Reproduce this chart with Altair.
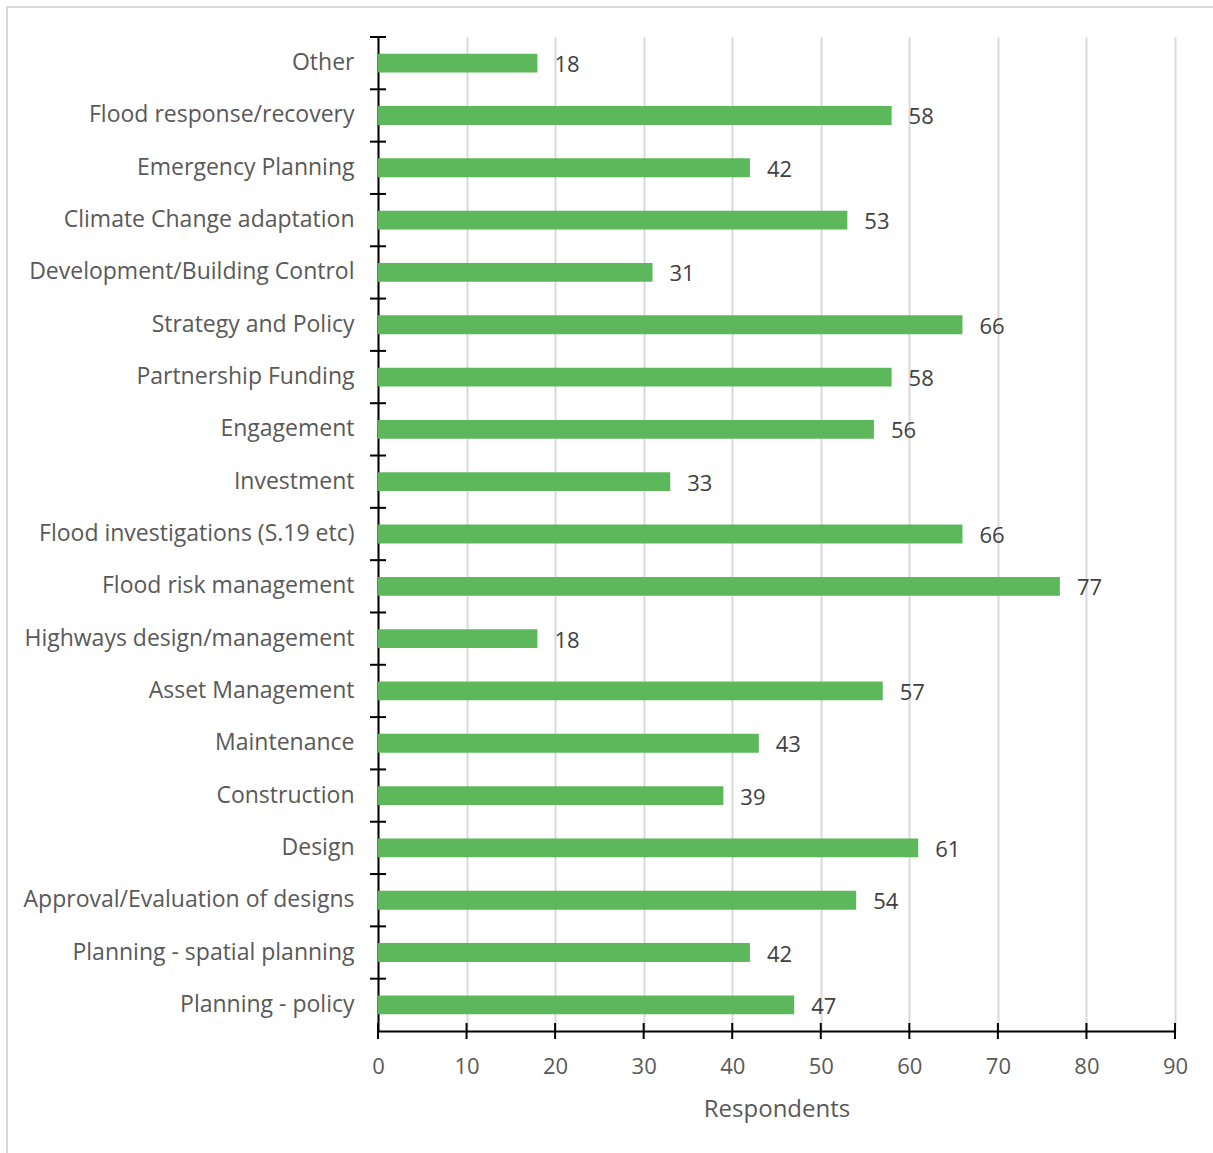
import altair as alt
import pandas as pd

categories = [
    "Other",
    "Flood response/recovery",
    "Emergency Planning",
    "Climate Change adaptation",
    "Development/Building Control",
    "Strategy and Policy",
    "Partnership Funding",
    "Engagement",
    "Investment",
    "Flood investigations (S.19 etc)",
    "Flood risk management",
    "Highways design/management",
    "Asset Management",
    "Maintenance",
    "Construction",
    "Design",
    "Approval/Evaluation of designs",
    "Planning - spatial planning",
    "Planning - policy",
]
respondents = [18, 58, 42, 53, 31, 66, 58, 56, 33, 66, 77, 18, 57, 43, 39, 61, 54, 42, 47]
x_ticks = [0, 10, 20, 30, 40, 50, 60, 70, 80, 90]

df = pd.DataFrame({"cat": categories, "n": respondents})
ticks_df = pd.DataFrame({"t": x_ticks})
frame_df = pd.DataFrame({"a": [0]})

W, H = 797, 994
FONT = "Open Sans"

yscale = alt.Scale(domain=categories, paddingInner=0, paddingOuter=0)
xscale = alt.Scale(domain=[0, 90], nice=False)

y_enc = alt.Y(
    "cat:N",
    sort=categories,
    scale=yscale,
    axis=alt.Axis(
        title=None,
        ticks=False,
        domainColor="black",
        domainWidth=2,
        labelFontSize=23,
        labelColor="#595959",
        labelPadding=24,
        labelLimit=400,
        grid=False,
    ),
)
x_enc = alt.X(
    "n:Q",
    scale=xscale,
    axis=alt.Axis(
        title="Respondents",
        values=x_ticks,
        ticks=False,
        labelFlush=False,
        labelOverlap=False,
        domainColor="black",
        domainWidth=2,
        grid=True,
        gridColor="#d9d9d9",
        gridWidth=2,
        labelFontSize=22,
        labelColor="#595959",
        labelPadding=25,
        titleFontSize=24,
        titleFontWeight="normal",
        titleColor="#595959",
        titlePadding=20,
    ),
)

bars = alt.Chart(df).mark_bar(
    color="#5cb85a", height=alt.RelativeBandSize(0.36)
).encode(x=x_enc, y=y_enc)

labels = alt.Chart(df).mark_text(
    align="left", baseline="middle", dx=17, dy=2, fontSize=22, color="#404040"
).encode(x=alt.X("n:Q", scale=xscale), y=alt.Y("cat:N", sort=categories, scale=yscale), text="n:Q")

xticks = alt.Chart(ticks_df).mark_rule(color="black", strokeWidth=2).encode(
    x=alt.X("t:Q", scale=xscale),
    y=alt.value(H - 8),
    y2=alt.value(H + 8),
)

yticks = alt.Chart(df).mark_rule(color="black", strokeWidth=2).encode(
    y=alt.Y("cat:N", sort=categories, scale=yscale, bandPosition=0),
    x=alt.value(-8),
    x2=alt.value(8),
)

frame = alt.Chart(frame_df).mark_rect(
    fill=None, stroke="#d9d9d9", strokeWidth=2
).encode(
    x=alt.value(-371),
    x2=alt.value(W + 60),
    y=alt.value(-30),
    y2=alt.value(H + 160),
)

chart = (
    alt.layer(frame, bars, labels, xticks, yticks)
    .properties(
        width=W,
        height=H,
        autosize=alt.AutoSizeParams(type="none"),
        padding={"left": 378, "top": 37, "right": 38, "bottom": 122},
    )
    .configure(font=FONT)
    .configure_view(stroke=None)
)

chart.save("out.html", embed_options={"renderer": "svg", "actions": False})
